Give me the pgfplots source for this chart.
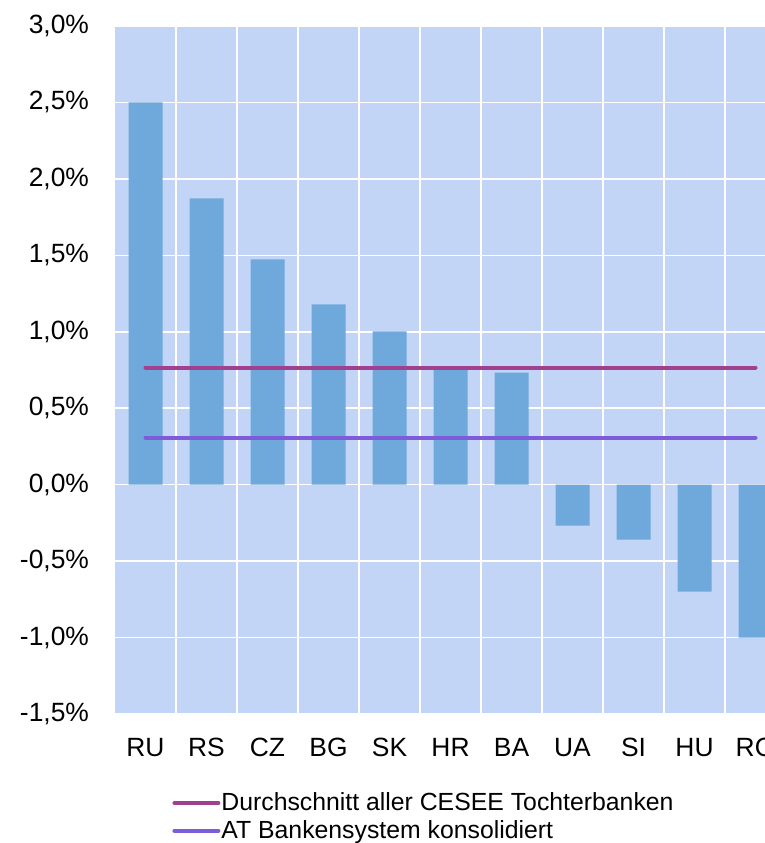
\documentclass[border=0pt]{standalone}
\usepackage{fontspec}
\setmainfont{Liberation Sans}
\usepackage{pgfplots}
\pgfplotsset{compat=1.18}
\definecolor{bgc}{HTML}{C2D5F7}
\definecolor{barc}{HTML}{6FA8DA}
\definecolor{lineA}{HTML}{A0408F}
\definecolor{lineB}{HTML}{7E5BD8}
\begin{document}
\begin{tikzpicture}
\begin{axis}[
  scale only axis,
  width=335.5pt, height=344pt,
  xmin=-0.5, xmax=10.5,
  ymin=-1.5, ymax=3,
  ytick={-1.5,-1,...,3},
  xtick={0,1,2,3,4,5,6,7,8,9,10},
  xticklabels={RU,RS,CZ,BG,SK,HR,BA,UA,SI,HU,RO},
  minor xtick={0.5,1.5,2.5,3.5,4.5,5.5,6.5,7.5,8.5,9.5},
  /pgf/number format/assume math mode=true,
  yticklabel={\pgfmathprintnumber[fixed,fixed zerofill,precision=1,use comma]{\tick}\%},
  tick label style={font=\fontsize{13.2}{15}\selectfont, color=black},
  yticklabel style={xshift=-9.5pt},
  xticklabel style={yshift=-8.5pt},
  major tick length=0pt, minor tick length=0pt,
  axis line style={draw=none},
  ymajorgrids, xminorgrids,
  major grid style={white, line width=0.8pt},
  minor grid style={white, line width=0.8pt},
  axis background/.style={fill=bgc},
  legend style={draw=none, fill=none, at={(axis description cs:0,0)}, anchor=north west,
    xshift=28.5pt, yshift=-37pt, font=\fontsize{12.4}{14}\selectfont,
    row sep=-0.5pt, inner sep=0pt, nodes={inner xsep=0.5pt}},
  legend cell align=left,
  legend image code/.code={\draw[#1, line width=2pt, line cap=round] (0.5pt,0pt) -- (22.5pt,0pt);},
]
\addplot[ybar, bar width=17pt, fill=barc, draw=none, forget plot] coordinates {
 (0,2.50) (1,1.873) (2,1.474) (3,1.179) (4,1.002) (5,0.76) (6,0.733)
 (7,-0.268) (8,-0.36) (9,-0.70) (10,-1.0)};
\addplot[lineA, line width=2pt, line cap=round] coordinates {(0,0.766) (10,0.766)};
\addlegendentry{Durchschnitt aller CESEE Tochterbanken}
\addplot[lineB, line width=2pt, line cap=round] coordinates {(0,0.308) (10,0.308)};
\addlegendentry{AT Bankensystem konsolidiert}
\coordinate (SW) at (rel axis cs:0,0);
\coordinate (NW) at (rel axis cs:0,1);
\end{axis}
\pgfresetboundingbox
\path[use as bounding box] ([shift={(-57.5pt,-64.5pt)}]SW) rectangle ([shift={(324.5pt,13pt)}]NW);
\end{tikzpicture}
\end{document}
